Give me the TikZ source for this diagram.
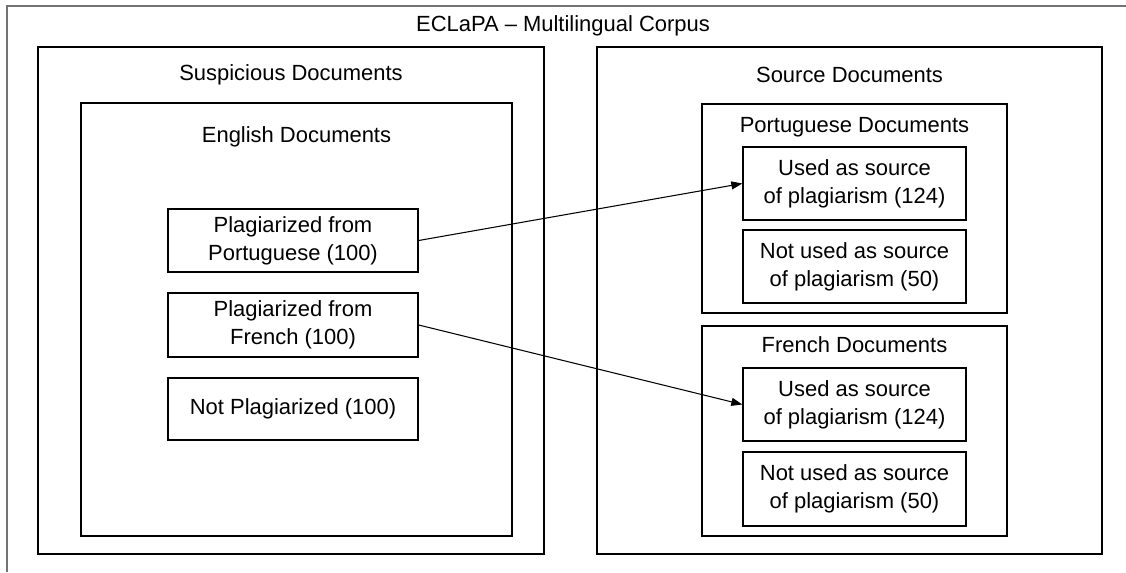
\documentclass[tikz,border=0pt]{standalone}
\usepackage{fontspec}
\setmainfont{Liberation Sans}
\usetikzlibrary{arrows.meta}

\begin{document}
\begin{tikzpicture}[x=0.02cm,y=-0.02cm,
		every node/.style={font=\fontsize{12.5}{15.8}\selectfont},
		frame/.style={draw, line width=.8pt, inner sep=0pt},
		doc/.style={draw, line width=.8pt, align=center, inner sep=0pt, minimum width=#1},
		doc/.default=4.46cm,
		link/.style={-{Triangle[length=2.2mm,width=1.6mm]}, line width=.6pt}]
			\useasboundingbox (0,0) rectangle (1126,572);
			\draw[line width=1pt, black!55] (7,572) |- (1126,6);
			\node (title) at (563,26) {ECLaPA – Multilingual Corpus};
			\node [frame, minimum width=10.12cm, minimum height=10.14cm] (susp) at (291,300.5) {};
			\node (susptitle) at (291,75) {Suspicious Documents};
			\node [frame, minimum width=8.62cm, minimum height=8.66cm] (eng) at (296.5,319.5) {};
			\node (engtitle) at (296.5,137) {English Documents};
			\node [doc=5cm, minimum height=1.26cm] (plagpt) at (293,240.5) {Plagiarized from\\Portuguese (100)};
			\node [doc=5cm, minimum height=1.28cm] (plagfr) at (293,325) {Plagiarized from\\French (100)};
			\node [doc=5cm, minimum height=1.24cm] (noplag) at (293,409) {Not Plagiarized (100)};
			\node [frame, minimum width=10.1cm, minimum height=10.14cm] (src) at (849.5,300.5) {};
			\node (srctitle) at (849.5,75) {Source Documents};
			\node [frame, minimum width=6.1cm, minimum height=4.18cm] (pt) at (854.5,208.5) {};
			\node (pttitle) at (854.5,127) {Portuguese Documents};
			\node [doc, minimum height=1.46cm] (ptused) at (854.5,183.5) {Used as source\\of plagiarism (124)};
			\node [doc, minimum height=1.46cm] (ptnot) at (854.5,266.5) {Not used as source\\of plagiarism (50)};
			\node [frame, minimum width=6.1cm, minimum height=4.2cm] (fr) at (854.5,431) {};
			\node (frtitle) at (854.5,345) {French Documents};
			\node [doc, minimum height=1.46cm] (frused) at (854.5,404.5) {Used as source\\of plagiarism (124)};
			\node [doc, minimum height=1.48cm] (frnot) at (854.5,489) {Not used as source\\of plagiarism (50)};
			\draw[link] (plagpt.east) -- (ptused.west);
			\draw[link] (plagfr.east) -- (frused.west);
		\end{tikzpicture}
\end{document}
